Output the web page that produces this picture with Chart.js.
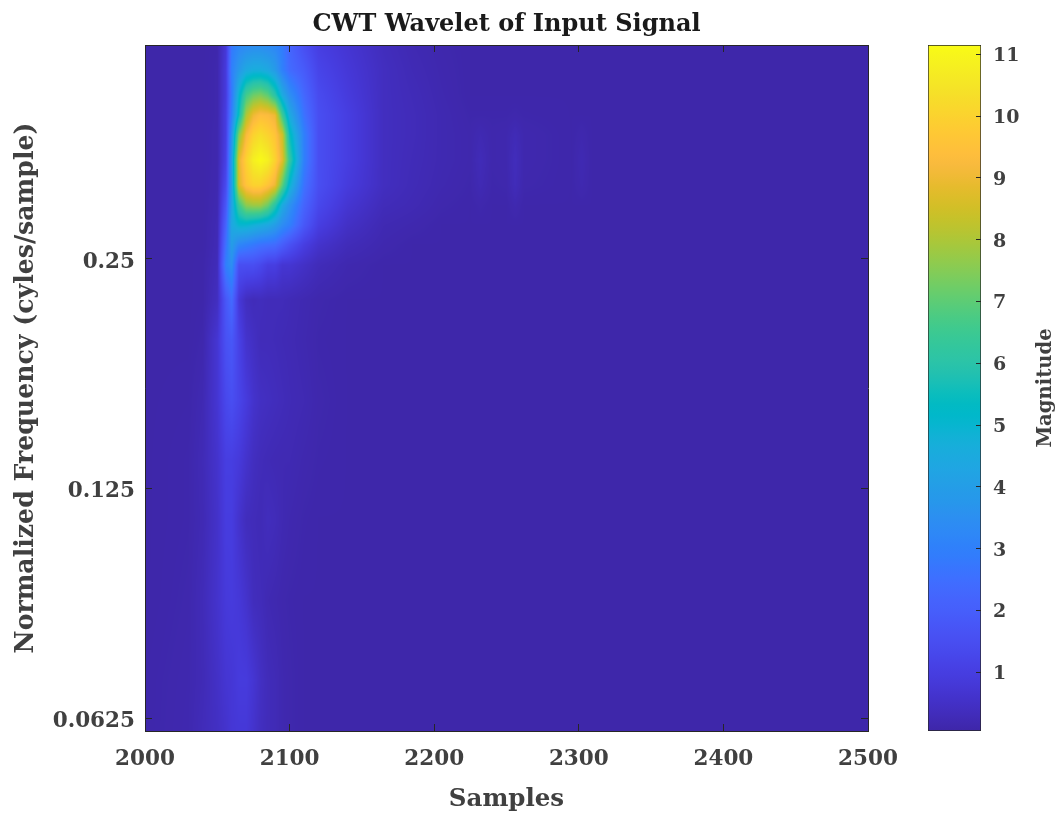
<!DOCTYPE html>
<html lang="en">
<head>
<meta charset="UTF-8">
<title>CWT Wavelet of Input Signal</title>
<script src="https://cdnjs.cloudflare.com/ajax/libs/Chart.js/4.4.1/chart.umd.min.js"></script>
<style>
  html, body { margin: 0; background: #fff; }
  #wrap { position: relative; width: 1064px; height: 820px; overflow: hidden; }
  canvas { position: absolute; top: 0; }
</style>
</head>
<body>
<div id="wrap">
  <canvas id="heat" width="1064" height="820" style="left:0"></canvas>
  <canvas id="bar" width="164" height="820" style="left:900px"></canvas>
</div>
<script>
const titleText = "CWT Wavelet of Input Signal";
const xLabel = "Samples";
const yLabel = "Normalized Frequency (cyles/sample)";
const barLabel = "Magnitude";

const xTicks = [2000, 2100, 2200, 2300, 2400, 2500];
const yTicks = [0.0625, 0.125, 0.25];
const yTickLabels = ["0.0625", "0.125", "0.25"];
const barTicks = [1, 2, 3, 4, 5, 6, 7, 8, 9, 10, 11];
const xRange = [2000, 2500];
const yRange = [0.0601, 0.477];
const magRange = [0.05, 11.15];

// grid, samples across, frequency down
const samples = [2000, 2030, 2040, 2050, 2056, 2060, 2065, 2070, 2075, 2080, 2085, 2090, 2095, 2100, 2110, 2120, 2140, 2165, 2185, 2205, 2225, 2232, 2240, 2250, 2256, 2262, 2295, 2302, 2309, 2500];
const freqs = [0.477, 0.4425, 0.41, 0.386, 0.3635, 0.337, 0.3125, 0.294, 0.277, 0.261, 0.2455, 0.221, 0.196, 0.163, 0.136, 0.1136, 0.0893, 0.07, 0.0601];
const magnitude = [
  [.06, .06, .06, .10, .80, 2.8, 3.2, 3.3, 3.4, 3.4, 3.3, 3.2, 2.9, 2.2, 1.5, 1.0, .70, .35, .20, .12, .08, .08, .08, .08, .08, .08, .08, .08, .08, .08],
  [.06, .06, .06, .12, .90, 3.0, 3.8, 4.4, 4.6, 4.6, 4.4, 3.9, 3.0, 2.4, 1.9, 1.2, .80, .40, .24, .14, .08, .08, .08, .08, .08, .08, .08, .08, .08, .08],
  [.06, .06, .06, .12, .90, 2.8, 5.0, 6.6, 7.2, 7.4, 7.0, 6.0, 4.5, 3.5, 2.3, 1.4, .90, .40, .28, .16, .08, .08, .08, .08, .08, .08, .08, .08, .08, .08],
  [.06, .06, .06, .12, 1.0, 3.0, 5.5, 8.0, 9.0, 9.4, 9.3, 9.0, 6.5, 4.5, 2.6, 1.5, 1.0, .40, .30, .18, .10, .10, .10, .10, .12, .10, .08, .08, .08, .08],
  [.06, .06, .06, .14, 1.0, 3.6, 7.5, 9.2, 10.0, 10.3, 10.0, 9.6, 8.5, 5.5, 3.0, 1.5, 1.0, .40, .30, .18, .12, .20, .12, .14, .26, .14, .08, .14, .08, .08],
  [.06, .06, .06, .14, 1.1, 4.0, 8.8, 10.0, 10.8, 11.1, 10.8, 10.0, 8.8, 6.3, 3.0, 1.5, 1.0, .40, .28, .18, .12, .28, .12, .14, .34, .14, .08, .20, .08, .08],
  [.06, .06, .06, .16, 1.4, 4.0, 8.6, 9.6, 10.0, 10.0, 9.6, 9.0, 7.0, 5.0, 2.6, 1.5, .90, .40, .26, .16, .10, .22, .10, .12, .30, .12, .08, .16, .08, .08],
  [.06, .06, .06, .18, 1.8, 4.2, 6.5, 7.6, 7.8, 7.8, 7.2, 6.0, 4.5, 3.6, 2.2, 1.3, .70, .30, .22, .12, .08, .12, .08, .08, .16, .08, .08, .08, .08, .08],
  [.06, .06, .06, .22, 2.2, 4.4, 5.0, 5.0, 4.8, 4.6, 4.4, 4.0, 3.4, 3.0, 1.8, 1.0, .50, .20, .14, .08, .08, .08, .08, .08, .08, .08, .08, .08, .08, .08],
  [.06, .06, .06, .24, 2.6, 4.0, 3.2, 3.0, 2.8, 2.6, 2.5, 2.4, 2.0, 1.6, 1.0, .60, .30, .14, .08, .08, .08, .08, .08, .08, .08, .08, .08, .08, .08, .08],
  [.06, .06, .08, .30, 3.0, 3.5, 1.5, 1.5, 1.5, 1.3, 1.0, 1.0, .70, .70, .50, .30, .15, .08, .08, .08, .08, .08, .08, .08, .08, .08, .08, .08, .08, .08],
  [.06, .06, .08, .40, 1.8, 2.4, .80, .40, .30, .35, .30, .30, .30, .25, .18, .12, .08, .08, .08, .08, .08, .08, .08, .08, .08, .08, .08, .08, .08, .08],
  [.06, .06, .12, .70, 1.6, 1.8, 1.1, .60, .45, .30, .30, .28, .24, .22, .16, .10, .08, .08, .08, .08, .08, .08, .08, .08, .08, .08, .08, .08, .08, .08],
  [.06, .08, .20, .70, 1.3, 1.5, 1.2, .90, .60, .45, .40, .35, .30, .25, .20, .12, .08, .08, .08, .08, .08, .08, .08, .08, .08, .08, .08, .08, .08, .08],
  [.06, .10, .25, .60, 1.0, 1.0, .85, .60, .40, .30, .25, .22, .20, .20, .14, .10, .08, .08, .08, .08, .08, .08, .08, .08, .08, .08, .08, .08, .08, .08],
  [.06, .10, .22, .55, .95, .95, .60, .35, .30, .25, .35, .30, .20, .15, .10, .08, .08, .08, .08, .08, .08, .08, .08, .08, .08, .08, .08, .08, .08, .08],
  [.06, .12, .28, .60, .85, .90, .80, .60, .35, .30, .20, .16, .12, .10, .08, .08, .08, .08, .08, .08, .08, .08, .08, .08, .08, .08, .08, .08, .08, .08],
  [.08, .14, .25, .50, .70, .75, .90, .90, .70, .45, .30, .25, .16, .12, .08, .08, .08, .08, .08, .08, .08, .08, .08, .08, .08, .08, .08, .08, .08, .08],
  [.08, .15, .30, .45, .60, .75, .80, .80, .60, .40, .30, .25, .16, .12, .08, .08, .08, .08, .08, .08, .08, .08, .08, .08, .08, .08, .08, .08, .08, .08]
];

// parula
const colormap = [
  [.2422,.1504,.6603],[.2504,.1650,.7076],[.2578,.1818,.7511],[.2647,.1978,.7952],
  [.2706,.2147,.8364],[.2751,.2342,.8710],[.2783,.2559,.8991],[.2803,.2782,.9221],
  [.2813,.3006,.9414],[.2810,.3228,.9579],[.2795,.3447,.9717],[.2760,.3667,.9829],
  [.2699,.3892,.9906],[.2602,.4123,.9952],[.2440,.4358,.9988],[.2206,.4603,.9973],
  [.1963,.4847,.9892],[.1834,.5074,.9798],[.1786,.5289,.9682],[.1764,.5499,.9520],
  [.1687,.5703,.9359],[.1540,.5902,.9218],[.1460,.6091,.9079],[.1380,.6276,.8973],
  [.1248,.6459,.8883],[.1113,.6635,.8763],[.0952,.6798,.8598],[.0689,.6948,.8394],
  [.0297,.7082,.8163],[.0036,.7203,.7917],[.0067,.7312,.7660],[.0433,.7411,.7394],
  [.0964,.7500,.7120],[.1408,.7584,.6842],[.1717,.7670,.6554],[.1938,.7758,.6251],
  [.2161,.7843,.5923],[.2470,.7918,.5567],[.2906,.7973,.5188],[.3406,.8008,.4789],
  [.3909,.8029,.4354],[.4456,.8024,.3909],[.5044,.7993,.3480],[.5616,.7942,.3045],
  [.6174,.7876,.2612],[.6720,.7793,.2227],[.7242,.7698,.1910],[.7738,.7598,.1646],
  [.8203,.7498,.1535],[.8634,.7406,.1596],[.9035,.7330,.1774],[.9393,.7288,.2100],
  [.9728,.7298,.2394],[.9956,.7434,.2371],[.9970,.7659,.2199],[.9952,.7893,.2028],
  [.9892,.8136,.1885],[.9786,.8386,.1766],[.9676,.8639,.1643],[.9610,.8890,.1537],
  [.9597,.9135,.1423],[.9628,.9373,.1265],[.9691,.9606,.1064],[.9769,.9839,.0805]
];

const FONT = "'DejaVu Serif', serif";
const DARK = "#262626";
const GREY = "#404040";

function colorFor(v) {
  const t = Math.min(1, Math.max(0, (v - magRange[0]) / (magRange[1] - magRange[0]))) * (colormap.length - 1);
  const i = Math.min(colormap.length - 2, Math.floor(t));
  const f = t - i;
  return colormap[i].map((c, k) => 255 * (c + (colormap[i + 1][k] - c) * f));
}

// where a value falls in a sorted list: index and fraction
function locate(list, value, logged) {
  let i = 0;
  while (i < list.length - 2 && list[i + 1] < value) i++;
  const a = logged ? Math.log(list[i]) : list[i];
  const b = logged ? Math.log(list[i + 1]) : list[i + 1];
  const v = logged ? Math.log(value) : value;
  return [i, Math.min(1, Math.max(0, (v - a) / (b - a)))];
}

// shaded like pcolor with "shading interp", looked up through the chart's scales
const shadingPlugin = {
  id: "shading",
  beforeDatasetsDraw(chart) {
    const { ctx, chartArea: area, scales } = chart;
    const left = Math.round(area.left), top = Math.round(area.top);
    const w = Math.round(area.right) - left, h = Math.round(area.bottom) - top;
    const img = ctx.createImageData(w, h);
    const rowsAsc = freqs.slice().reverse();
    const colPos = [];
    for (let px = 0; px < w; px++) colPos.push(locate(samples, scales.x.getValueForPixel(left + px + 0.5), false));
    for (let py = 0; py < h; py++) {
      const f = Math.min(rowsAsc[rowsAsc.length - 1], Math.max(rowsAsc[0], scales.y.getValueForPixel(top + py + 0.5)));
      const [ri, rf] = locate(rowsAsc, f, true);
      const lower = magnitude[freqs.length - 1 - ri];
      const upper = magnitude[freqs.length - 2 - ri];
      for (let px = 0; px < w; px++) {
        const [ci, cf] = colPos[px];
        const a = lower[ci] + (lower[ci + 1] - lower[ci]) * cf;
        const b = upper[ci] + (upper[ci + 1] - upper[ci]) * cf;
        const c = colorFor(a + (b - a) * rf);
        const o = (py * w + px) * 4;
        img.data[o] = c[0]; img.data[o + 1] = c[1]; img.data[o + 2] = c[2]; img.data[o + 3] = 255;
      }
    }
    ctx.putImageData(img, left, top);
  }
};

const cells = [];
freqs.forEach((f, r) => samples.forEach((s, c) => cells.push({ x: s, y: f, v: magnitude[r][c] })));

const tickFont = { family: FONT, size: 21.5, weight: "bold" };
const inwardGrid = { drawOnChartArea: false, tickLength: -7, tickWidth: 1, tickColor: DARK, z: 1 };
const frame = { color: DARK, width: 1, z: 1 };

new Chart("heat", {
  type: "scatter",
  data: { datasets: [{ label: barLabel, data: cells, pointRadius: 0, pointHoverRadius: 0 }] },
  plugins: [shadingPlugin],
  options: {
    responsive: false,
    animation: false,
    layout: { padding: { right: 196 } },
    plugins: { legend: { display: false }, tooltip: { enabled: false } },
    scales: {
      x: {
        type: "linear", position: "bottom", min: xRange[0], max: xRange[1],
        afterBuildTicks: s => { s.ticks = xTicks.map(v => ({ value: v })); },
        afterFit: s => { s.height = 89; },
        grid: inwardGrid, border: frame,
        ticks: { color: GREY, font: tickFont, padding: 23, maxRotation: 0, autoSkip: false, callback: v => String(v) },
        title: { display: true, text: xLabel, color: GREY, font: { family: FONT, size: 24.5, weight: "bold" }, padding: { top: 0, bottom: 6 } }
      },
      // the top axis carries the title so it centres over the plot
      x2: {
        type: "linear", position: "top", min: xRange[0], max: xRange[1],
        afterBuildTicks: s => { s.ticks = xTicks.map(v => ({ value: v })); },
        afterFit: s => { s.height = 45; },
        grid: inwardGrid, border: frame, ticks: { display: false },
        title: { display: true, text: titleText, color: "#1a1a1a", font: { family: FONT, size: 24, weight: "bold" }, padding: { top: 10, bottom: 0 } }
      },
      y: {
        type: "logarithmic", position: "left", min: yRange[0], max: yRange[1],
        afterBuildTicks: s => { s.ticks = yTicks.map(v => ({ value: v })); },
        afterFit: s => { s.width = 145; },
        grid: inwardGrid, border: frame,
        ticks: { color: GREY, font: tickFont, padding: 17, labelOffset: 3, autoSkip: false, callback: v => yTickLabels[yTicks.indexOf(v)] },
        title: { display: true, text: yLabel, color: GREY, font: { family: FONT, size: 25.2, weight: "bold" }, padding: { top: 11, bottom: 0 } }
      },
      y2: {
        type: "logarithmic", position: "right", min: yRange[0], max: yRange[1],
        afterBuildTicks: s => { s.ticks = yTicks.map(v => ({ value: v })); },
        afterFit: s => { s.width = 0; },
        grid: inwardGrid, border: frame, ticks: { display: false }
      }
    }
  }
});

// colorbar title reads upward, the axis title option would turn it the other way
const barTitlePlugin = {
  id: "barTitle",
  afterDraw(chart) {
    const { ctx } = chart;
    ctx.save();
    ctx.translate(146, 388);
    ctx.rotate(-Math.PI / 2);
    ctx.font = "bold 19.6px " + FONT;
    ctx.fillStyle = GREY;
    ctx.textAlign = "center";
    ctx.textBaseline = "middle";
    ctx.fillText(barLabel, 0, 0);
    ctx.restore();
  }
};

new Chart("bar", {
  type: "bar",
  data: {
    labels: [barLabel],
    datasets: [{
      data: [magRange],
      categoryPercentage: 1,
      barPercentage: 1,
      borderWidth: 1,
      borderColor: DARK,
      borderSkipped: false,
      backgroundColor: ctx => {
        const y = ctx.chart.scales.y;
        const y0 = y ? y.getPixelForValue(magRange[0]) : NaN;
        const y1 = y ? y.getPixelForValue(magRange[1]) : NaN;
        if (!Number.isFinite(y0) || !Number.isFinite(y1)) return "#ccc";
        const g = ctx.chart.ctx.createLinearGradient(0, y0, 0, y1);
        colormap.forEach((c, i) => g.addColorStop(i / (colormap.length - 1), "rgb(" + c.map(k => Math.round(k * 255)).join(",") + ")"));
        return g;
      }
    }]
  },
  plugins: [barTitlePlugin],
  options: {
    responsive: false,
    animation: false,
    layout: { padding: { left: 28, top: 45, bottom: 89 } },
    plugins: { legend: { display: false }, tooltip: { enabled: false } },
    scales: {
      x: { display: false },
      y: {
        position: "right", min: magRange[0], max: magRange[1],
        afterBuildTicks: s => { s.ticks = barTicks.map(v => ({ value: v })); },
        afterFit: s => { s.width = 83; },
        grid: { drawOnChartArea: false, tickLength: -5, tickWidth: 1, tickColor: DARK, z: 1 },
        border: { display: false },
        ticks: { color: GREY, font: { family: FONT, size: 19, weight: "bold" }, padding: 17, labelOffset: 2, autoSkip: false, callback: v => String(v) }
      }
    }
  }
});
</script>
</body>
</html>
